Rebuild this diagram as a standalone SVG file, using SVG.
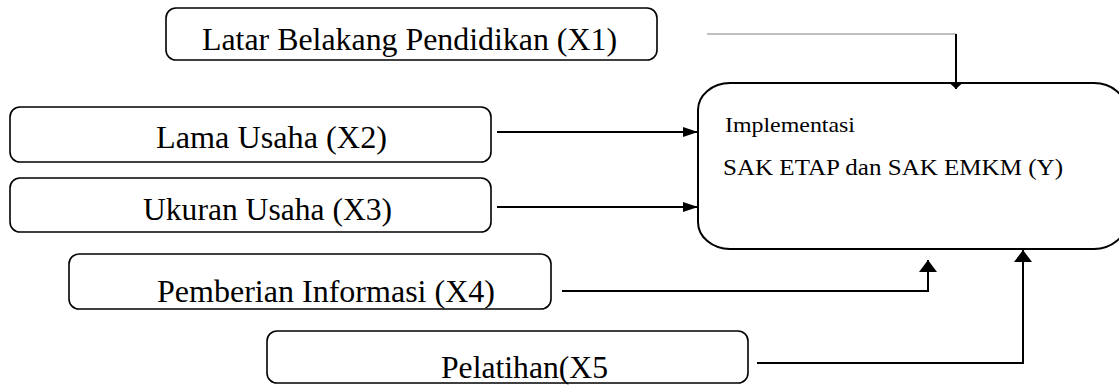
<svg xmlns="http://www.w3.org/2000/svg" width="1119" height="385" viewBox="0 0 1119 385">
<style>
.box{fill:#fff;stroke:#000;stroke-width:1.6}
.ybox{fill:#fff;stroke:#000;stroke-width:2}
text{font-family:'Liberation Serif','Times New Roman',serif;fill:#000}
.t{font-size:32px}
.c{fill:none;stroke:#000;stroke-width:2}
.g{fill:none;stroke:#808080;stroke-width:1.2}
</style>
<defs>
<marker id="ah" markerUnits="userSpaceOnUse" markerWidth="16" markerHeight="12" refX="15" refY="5" orient="auto">
<path d="M0,0 L15,5 L0,10 Z" fill="#000"/>
</marker>
<marker id="ahb" markerUnits="userSpaceOnUse" markerWidth="14" markerHeight="18" refX="12" refY="9" orient="auto">
<path d="M0,0 L12,9 L0,18 Z" fill="#000"/>
</marker>
<marker id="ahs" markerUnits="userSpaceOnUse" markerWidth="9" markerHeight="16" refX="7" refY="7.5" orient="auto">
<path d="M0,0 L7,7.5 L0,15 Z" fill="#000"/>
</marker>
<clipPath id="clip1"><rect x="166" y="8" width="491" height="49"/></clipPath>
</defs>

<g id="node-y">
<rect class="ybox" x="698" y="83" width="428" height="166" rx="32" ry="27"/>
<text x="725" y="132" font-size="22" textLength="130" lengthAdjust="spacingAndGlyphs">Implementasi</text>
<text x="723" y="175" font-size="24" textLength="340" lengthAdjust="spacingAndGlyphs">SAK ETAP dan SAK EMKM (Y)</text>
</g>

<g id="node-x1">
<rect class="box" x="166" y="8" width="491" height="52" rx="10"/>
<text class="t" x="202" y="50" textLength="415" lengthAdjust="spacingAndGlyphs" clip-path="url(#clip1)">Latar Belakang Pendidikan (X1)</text>
</g>

<g id="node-x2">
<rect class="box" x="10" y="107" width="481" height="55" rx="10"/>
<text class="t" x="156" y="148" textLength="231" lengthAdjust="spacingAndGlyphs">Lama Usaha (X2)</text>
</g>

<g id="node-x3">
<rect class="box" x="10" y="178" width="481" height="54" rx="10"/>
<text class="t" x="143" y="220" textLength="249" lengthAdjust="spacingAndGlyphs">Ukuran Usaha (X3)</text>
</g>

<g id="node-x4">
<rect class="box" x="69" y="254" width="482" height="55" rx="10"/>
<text class="t" x="157" y="302" textLength="338" lengthAdjust="spacingAndGlyphs">Pemberian Informasi (X4)</text>
</g>

<g id="node-x5">
<rect class="box" x="267" y="331" width="481" height="52" rx="10"/>
<text class="t" x="441" y="378" textLength="167" lengthAdjust="spacingAndGlyphs">Pelatihan(X5</text>
</g>

<g id="connectors">
<polyline class="g" points="707,34 956,34"/>
<polyline class="c" points="956,34 956,89" stroke-width="2.5" marker-end="url(#ahs)"/>
<line class="c" x1="497" y1="132" x2="698" y2="132" stroke-width="1.6" marker-end="url(#ah)"/>
<line class="c" x1="497" y1="207" x2="698" y2="207" stroke-width="1.6" marker-end="url(#ah)"/>
<polyline class="c" points="562,291 928,291 928,260" marker-end="url(#ahb)"/>
<polyline class="c" points="757,363 1023,363 1023,250" marker-end="url(#ahb)"/>
</g>
</svg>
